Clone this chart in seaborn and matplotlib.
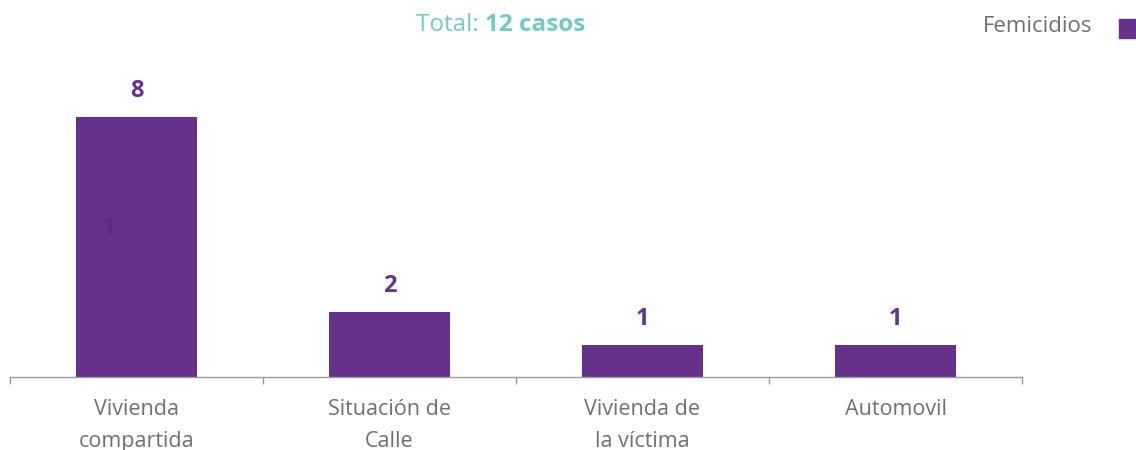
import matplotlib
matplotlib.use("Agg")
import matplotlib.pyplot as plt
import seaborn as sns
import pandas as pd

categories = ["Vivienda\ncompartida", "Situación de\nCalle", "Vivienda de\nla víctima", "Automovil"]
femicidios = [8, 2, 1, 1]
stray_label = "1"
stray_value = 4.6
total_casos = 12
series_name = "Femicidios"

BAR = "#65318A"
TEAL = "#72CAC5"
GRAY = "#707070"

sns.set_theme(style="white")
plt.rcParams["font.family"] = ["Open Sans", "DejaVu Sans"]

df = pd.DataFrame({"lugar": categories, "casos": femicidios})

fig = plt.figure(figsize=(11.36, 4.5), dpi=100)
ax = fig.add_axes([10 / 1136, (450 - 377) / 450, (1022 - 10) / 1136, (377 - 52) / 450])

sns.barplot(data=df, x="lugar", y="casos", color=BAR, saturation=1, width=0.48,
            linewidth=0, ax=ax)

ax.set_ylim(0, 10)
ax.set_xlim(-0.5, len(categories) - 0.5)
ax.set_xlabel("")
ax.set_ylabel("")
ax.set_yticks([])
for s in ["top", "right", "left"]:
    ax.spines[s].set_visible(False)
ax.spines["bottom"].set_color("#9a9a9a")
ax.spines["bottom"].set_linewidth(1)

ax.set_xticks(range(len(categories)))
ax.set_xticklabels(categories, fontsize=15.5, color=GRAY, linespacing=1.7)
ax.tick_params(axis="x", which="major", length=0, pad=15.5)
ax.set_xticks([i - 0.5 for i in range(len(categories) + 1)], minor=True)
ax.tick_params(axis="x", which="minor", length=5, width=1, color="#9a9a9a", direction="out", bottom=True)

for i, v in enumerate(femicidios):
    ax.annotate(str(v), xy=(i, v), xytext=(0, 10), textcoords="offset points",
                ha="center", va="bottom", fontsize=17, fontweight="bold", color=BAR)

ax.text(-0.11, stray_value, stray_label, ha="center", va="center",
        fontsize=17, fontweight="bold", color="#5A2A7C")

t1 = fig.text(416 / 1136, 1 - 31 / 450, "Total: ", fontsize=17.5, color=TEAL,
              ha="left", va="baseline")
fig.canvas.draw()
ax.annotate(f"{total_casos} casos", xy=(1, 0), xycoords=t1, va="bottom", ha="left",
            fontsize=17.5, color=TEAL, fontweight="bold", annotation_clip=False)

fig.text(1092 / 1136, 1 - 27 / 450, series_name, fontsize=16, color=GRAY,
         ha="right", va="center")
fig.patches.append(plt.Rectangle((1119 / 1136, 1 - 38 / 450), 17 / 1136, 19 / 450,
                                 transform=fig.transFigure, color=BAR, figure=fig))

fig.savefig("out.png", dpi=100)
